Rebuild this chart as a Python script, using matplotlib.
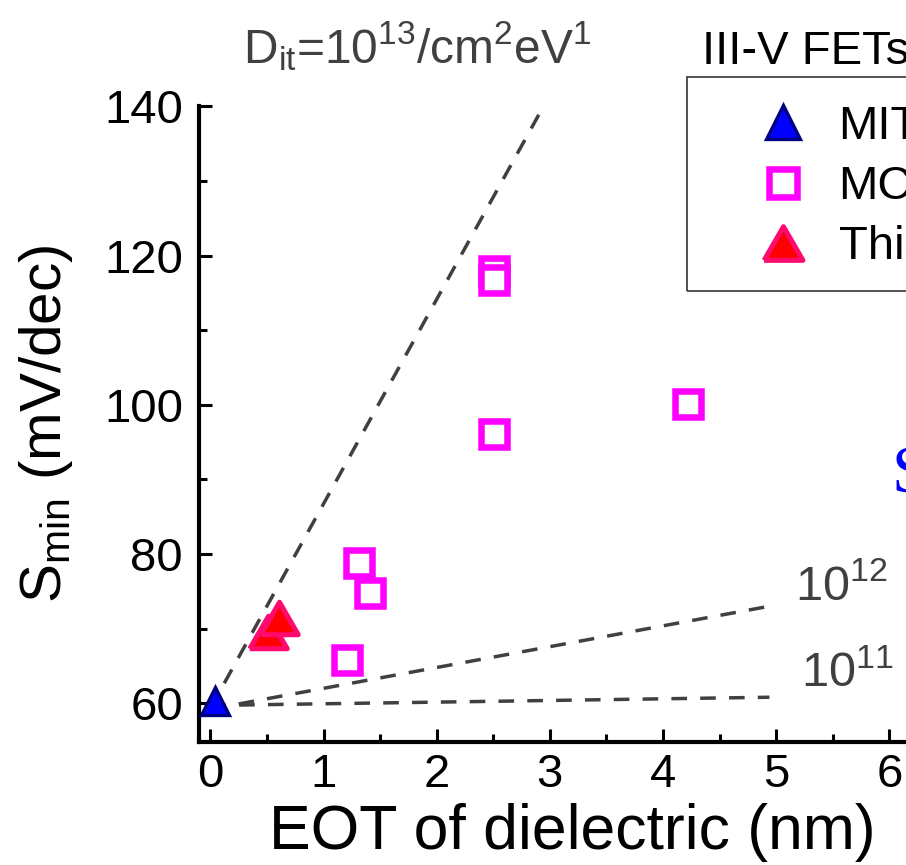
import matplotlib
matplotlib.use("Agg")
import matplotlib.pyplot as plt
from matplotlib.patches import Rectangle
from matplotlib.ticker import MultipleLocator

# ---- values ----
mit_eot = [0.04]
mit_smin = [60.3]

mc_eot = [2.51, 2.51, 2.51, 4.22, 1.31, 1.41, 1.21]
mc_smin = [117.9, 116.8, 96.1, 100.1, 78.8, 74.8, 65.8]

work_eot = [0.51, 0.61]
work_smin = [69.5, 71.4]

# dashed guide lines for D_it = 1e13, 1e12, 1e11 /cm2 eV (end points)
dit13_eot = [0.0, 2.95]
dit13_smin = [59.3, 140.2]
dit12_eot = [0.0, 4.94]
dit12_smin = [59.2, 73.0]
dit11_eot = [0.0, 4.94]
dit11_smin = [59.7, 60.8]

legend_labels = ["MIT", "MC", "This work"]

plt.rcParams["font.family"] = ["Liberation Sans", "DejaVu Sans"]
plt.rcParams["mathtext.fontset"] = "custom"
plt.rcParams["mathtext.rm"] = "Liberation Sans"
plt.rcParams["mathtext.it"] = "Liberation Sans:italic"
plt.rcParams["mathtext.bf"] = "Liberation Sans:bold"

W, H = 906, 865
fig = plt.figure(figsize=(W / 100, H / 100), dpi=100)
# axes runs past the right edge of the picture, like the cropped reference
ax = fig.add_axes([199 / W, 123 / H, 747 / W, (742 - 105.7) / H])
ax.set_xlim(-0.1, 6.5)
ax.set_ylim(54.8, 140.1)

grey = "#404040"
dash_kw = dict(color=grey, lw=2.5, linestyle=(0, (4.5, 3.8)), zorder=2)
ax.plot(dit13_eot, dit13_smin, **dash_kw)
ax.plot(dit12_eot, dit12_smin, **dash_kw)
ax.plot(dit11_eot, dit11_smin, **dash_kw)

tri_eq = [(-1, -0.866), (1, -0.866), (0, 0.866), (-1, -0.866)]

h_mit, = ax.plot(mit_eot, mit_smin, ls="none", marker="^", ms=20,
                 mfc="#0000ff", mec="#000080", mew=2.4, zorder=5,
                 clip_on=False)
h_mc, = ax.plot(mc_eot, mc_smin, ls="none", marker="s", ms=19,
                mfc="white", mec="#ff00ff", mew=4.7, zorder=4)
h_work, = ax.plot(work_eot, work_smin, ls="none", marker=tri_eq, ms=27,
                  mfc="#ff0000", mec="#ff0a6e", mew=3.6, zorder=5)

for side in ["top", "right"]:
    ax.spines[side].set_visible(False)
for side in ["left", "bottom"]:
    ax.spines[side].set_linewidth(3)

ax.xaxis.set_major_locator(MultipleLocator(1))
ax.xaxis.set_minor_locator(MultipleLocator(0.5))
ax.yaxis.set_major_locator(MultipleLocator(20))
ax.yaxis.set_minor_locator(MultipleLocator(10))
ax.tick_params(which="both", direction="in", width=2.2, top=False,
               right=False, labelsize=34)
ax.tick_params(which="major", length=9.5)
ax.tick_params(which="minor", length=6)
ax.tick_params(axis="x", pad=8)
ax.tick_params(axis="y", pad=11.5)

ax.set_xlabel("EOT of dielectric (nm)", fontsize=45, labelpad=4)
ax.set_ylabel(r"S$_{\rm min}$ (mV/dec)", fontsize=42, labelpad=21)

ax.text(5.17, 73.8, r"10$^{12}$", fontsize=35, color=grey, va="baseline")
ax.text(5.22, 62.2, r"10$^{11}$", fontsize=35, color=grey, va="baseline")

fig.text(243 / W, 1 - 63 / H, r"D$_{\rm it}$=10$^{13}$/cm$^2$eV$^1$",
         fontsize=34.5, color=grey, va="baseline")
fig.text(702 / W, 1 - 64 / H, "III-V FETs", fontsize=34, va="baseline")
fig.text(892 / W, 1 - 492 / H, "S", fontsize=48, color="#0000ff",
         family="Liberation Serif", va="baseline")

leg = ax.legend([h_mit, h_mc, h_work], legend_labels, loc="upper left",
                bbox_to_anchor=(755 / W, 1 - 105 / H),
                bbox_transform=fig.transFigure, frameon=False, borderpad=0,
                borderaxespad=0, handlelength=1.2, handletextpad=0.57,
                labelspacing=0.34, fontsize=34, numpoints=1)
leg.legend_handles[0].set_markersize(24)
leg.legend_handles[1].set_markersize(19.5)
leg.legend_handles[2].set_markersize(28)
fig.add_artist(Rectangle((687 / W, 1 - 291 / H), 0.4, 214 / H,
                         transform=fig.transFigure, fill=False,
                         ec="#333333", lw=1.2, clip_on=False))

fig.savefig("out.png", dpi=100, facecolor="white")
